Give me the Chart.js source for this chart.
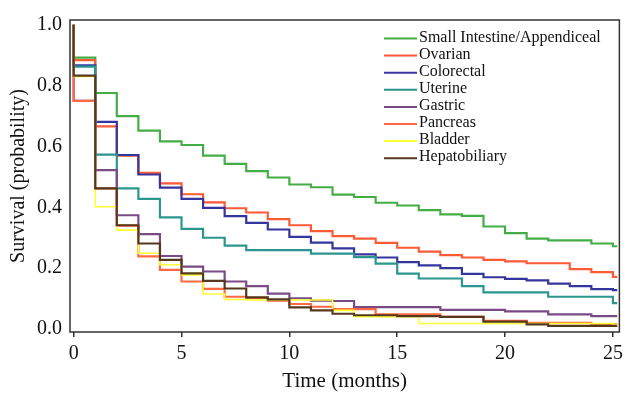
<!DOCTYPE html>
<html>
<head>
<meta charset="utf-8">
<script src="https://cdn.jsdelivr.net/npm/chart.js@4.4.1/dist/chart.umd.min.js"></script>
<style>
  html, body { margin: 0; padding: 0; background: #fff; }
</style>
</head>
<body>
<canvas id="km" width="628" height="394"></canvas>
<script>
// Kaplan-Meier survival by primary site, value held on [month, month + 1)
const months = [0, 1, 2, 3, 4, 5, 6, 7, 8, 9, 10, 11, 12, 13, 14, 15, 16, 17, 18, 19, 20, 21, 22, 23, 24, 25];
const lastMonth = 25.2;
const xTickValues = [0, 5, 10, 15, 20, 25];
const yTickValues = [0, 0.2, 0.4, 0.6, 0.8, 1.0];

const siteNames = ['Small Intestine/Appendiceal', 'Ovarian', 'Colorectal', 'Uterine', 'Gastric', 'Pancreas', 'Bladder', 'Hepatobiliary'];
const siteColors = ['#45ad45', '#ff5a36', '#35359e', '#2b968e', '#7a4a86', '#ff6a45', '#ffff33', '#56381c'];

const smallIntestine = [0.892, 0.776, 0.700, 0.652, 0.617, 0.605, 0.570, 0.543, 0.519, 0.498, 0.475, 0.466, 0.442, 0.434, 0.415, 0.406, 0.391, 0.377, 0.372, 0.337, 0.315, 0.297, 0.291, 0.291, 0.281, 0.272];
const ovarian = [0.884, 0.666, 0.570, 0.513, 0.479, 0.443, 0.416, 0.397, 0.383, 0.361, 0.341, 0.322, 0.305, 0.297, 0.283, 0.267, 0.254, 0.243, 0.235, 0.227, 0.222, 0.216, 0.216, 0.197, 0.187, 0.171];
const colorectal = [0.867, 0.681, 0.572, 0.508, 0.465, 0.428, 0.398, 0.371, 0.349, 0.327, 0.303, 0.284, 0.265, 0.245, 0.235, 0.220, 0.209, 0.200, 0.181, 0.170, 0.165, 0.160, 0.149, 0.141, 0.131, 0.128];
const uterine = [0.863, 0.573, 0.462, 0.428, 0.367, 0.329, 0.300, 0.274, 0.259, 0.259, 0.259, 0.248, 0.248, 0.236, 0.215, 0.182, 0.166, 0.166, 0.141, 0.120, 0.120, 0.120, 0.106, 0.106, 0.106, 0.085];
const gastric = [0.750, 0.522, 0.374, 0.312, 0.240, 0.205, 0.189, 0.156, 0.141, 0.116, 0.101, 0.093, 0.092, 0.072, 0.072, 0.072, 0.072, 0.063, 0.063, 0.063, 0.058, 0.058, 0.048, 0.048, 0.042, 0.042];
const pancreas = [0.750, 0.462, 0.340, 0.239, 0.194, 0.156, 0.132, 0.106, 0.102, 0.093, 0.082, 0.073, 0.065, 0.065, 0.048, 0.048, 0.048, 0.040, 0.040, 0.027, 0.027, 0.020, 0.020, 0.020, 0.016, 0.016];
const bladder = [0.830, 0.402, 0.325, 0.249, 0.211, 0.178, 0.115, 0.097, 0.095, 0.095, 0.095, 0.095, 0.061, 0.040, 0.040, 0.040, 0.018, 0.018, 0.018, 0.018, 0.018, 0.018, 0.018, 0.018, 0.018, 0.015];
const hepatobiliary = [0.833, 0.462, 0.341, 0.281, 0.227, 0.183, 0.158, 0.133, 0.104, 0.097, 0.071, 0.061, 0.050, 0.045, 0.045, 0.042, 0.042, 0.040, 0.040, 0.024, 0.024, 0.015, 0.010, 0.010, 0.010, 0.010];

const siteValues = [smallIntestine, ovarian, colorectal, uterine, gastric, pancreas, bladder, hepatobiliary];

function toSteps(values) {
  const pts = [{ x: 0, y: 1 }];
  months.forEach((m, i) => pts.push({ x: m, y: values[i] }));
  pts.push({ x: lastMonth, y: values[values.length - 1] });
  return pts;
}

const datasets = siteValues.map((vals, i) => ({
  label: siteNames[i],
  data: toSteps(vals),
  borderColor: siteColors[i],
  borderWidth: i === 6 ? 1.6 : 2.2,
  stepped: true,
  pointRadius: 0,
  fill: false,
  order: siteValues.length - i,
}));

const serif = "'Liberation Serif', 'Times New Roman', serif";

// box around the plot and the legend in the upper right
const frameAndLegend = {
  id: 'frameAndLegend',
  afterDatasetsDraw(chart) {
    const { ctx, chartArea: a } = chart;
    ctx.save();
    ctx.strokeStyle = '#333';
    ctx.lineWidth = 1.5;
    ctx.strokeRect(a.left, a.top, a.right - a.left, a.bottom - a.top);

    ctx.font = '16px ' + serif;
    ctx.textBaseline = 'middle';
    ctx.fillStyle = '#111';
    siteNames.forEach((name, i) => {
      const y = 38.5 + i * 17.1;
      ctx.strokeStyle = siteColors[i];
      ctx.lineWidth = 2;
      ctx.beginPath();
      ctx.moveTo(384, y);
      ctx.lineTo(417, y);
      ctx.stroke();
      ctx.fillText(name, 419, y - 1);
    });
    ctx.restore();
  },
};

new Chart(document.getElementById('km'), {
  type: 'line',
  data: { datasets },
  options: {
    responsive: false,
    animation: false,
    devicePixelRatio: 1,
    layout: { padding: { top: 13, right: 8, left: 0, bottom: 0 } },
    plugins: { legend: { display: false }, tooltip: { enabled: false } },
    scales: {
      x: {
        type: 'linear',
        min: -0.17,
        max: 25.3,
        afterBuildTicks: (scale) => { scale.ticks = xTickValues.map((v) => ({ value: v })); },
        afterFit: (scale) => { scale.height = 62; },
        ticks: { font: { family: serif, size: 20 }, color: '#111', padding: 5, maxRotation: 0 },
        grid: { drawOnChartArea: false, drawTicks: true, tickLength: 5, color: '#333', lineWidth: 1.5 },
        border: { display: false },
        title: { display: true, text: 'Time (months)', font: { family: serif, size: 21 }, color: '#111', padding: { top: 0, bottom: 0 } },
      },
      y: {
        min: -0.01,
        max: 1.016,
        afterBuildTicks: (scale) => { scale.ticks = yTickValues.map((v) => ({ value: v })); },
        afterFit: (scale) => { scale.width = 70; },
        ticks: { font: { family: serif, size: 20 }, color: '#111', padding: 8, callback: (v) => v.toFixed(1) },
        grid: { display: false, drawTicks: false },
        border: { display: false },
        title: { display: true, text: 'Survival (probability)', font: { family: serif, size: 20 }, color: '#111', padding: { top: 7, bottom: 0 } },
      },
    },
  },
  plugins: [frameAndLegend],
});
</script>
</body>
</html>
